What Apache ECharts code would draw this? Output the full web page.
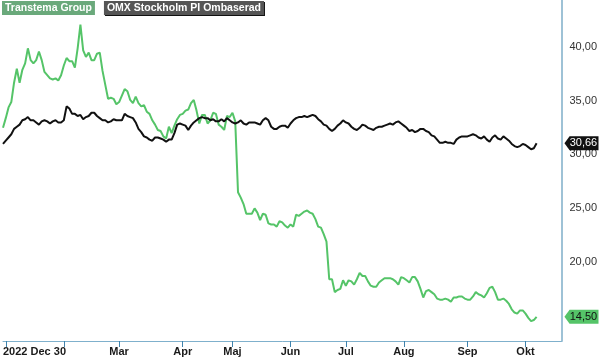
<!DOCTYPE html>
<html>
<head>
<meta charset="utf-8">
<script src="https://cdn.jsdelivr.net/npm/echarts@6/dist/echarts.min.js"></script>
<style>
  html, body { margin: 0; padding: 0; background: #fff; }
  #chart { width: 600px; height: 358px; }
</style>
</head>
<body>
<div id="chart"></div>
<script>
// trading days (Stockholm), first point 2022-12-30, axis runs a few days past the last point
const startDate = '2022-12-30';
const axisEndDate = '2023-10-19';
const holidays = ['2023-01-06', '2023-04-07', '2023-04-10', '2023-05-01', '2023-05-18', '2023-06-06', '2023-06-23'];
const monthNames = ['Jan', 'Feb', 'Mar', 'Apr', 'Maj', 'Jun', 'Jul', 'Aug', 'Sep', 'Okt', 'Nov', 'Dec'];

const seriesNames = ['Transtema Group', 'OMX Stockholm PI Ombaserad'];

const transtema = [
  32.1, 33.0, 34.0, 34.5, 36.3, 37.6, 36.3, 37.5, 38.1, 39.5,
  38.4, 38.1, 38.4, 39.2, 38.4, 37.3, 37.0, 36.7, 36.6, 36.7,
  36.5, 37.0, 37.9, 38.6, 38.3, 38.3, 37.7, 39.5, 41.7, 39.3,
  38.7, 39.1, 38.4, 38.4, 39.0, 39.1, 37.4, 36.1, 34.8, 34.9,
  34.8, 34.3, 34.5, 35.1, 35.7, 35.5, 34.7, 34.4, 35.0, 34.4,
  34.1, 34.2, 33.6, 33.4, 32.8, 32.4, 31.9, 31.8, 31.3, 31.1,
  32.2, 31.6, 32.3, 32.9, 33.3, 33.4, 33.7, 33.8, 34.4, 34.7,
  33.7, 32.5, 33.3, 33.3, 32.5, 32.8, 33.5, 33.4, 32.4, 32.2,
  31.9, 33.2, 33.1, 33.5, 32.7, 26.1, 25.6, 25.0, 24.1, 24.1,
  24.1, 24.6, 24.2, 23.5, 24.1, 24.0, 23.2, 23.1, 23.1, 22.9,
  23.4, 23.3, 23.0, 22.8, 23.1, 22.9, 24.0, 23.9, 24.1, 24.3,
  24.4, 24.2, 24.1, 23.6, 22.9, 22.8, 22.2, 21.5, 18.0, 18.0,
  16.8, 17.0, 17.1, 17.9, 17.4, 17.9, 17.8, 17.5, 18.0, 18.6,
  18.3, 18.3, 17.8, 17.4, 17.3, 17.3, 17.7, 17.9, 18.1, 18.1,
  18.1, 18.0, 17.8, 17.5, 18.2, 18.1, 17.9, 17.7, 18.2, 18.2,
  17.8, 17.1, 16.3, 16.9, 17.0, 16.8, 16.6, 16.2, 16.1, 16.1,
  16.2, 16.1, 15.9, 16.3, 16.3, 16.4, 16.4, 16.2, 16.1, 16.1,
  16.4, 16.8, 16.6, 16.5, 16.3, 16.7, 17.2, 17.3, 16.8, 16.1,
  16.1, 16.2, 16.0, 15.7, 15.2, 14.9, 14.8, 15.1, 15.1, 14.8,
  14.4, 14.1, 14.2, 14.50
];

const omxpi = [
  30.6, 30.9, 31.2, 31.5, 32.0, 32.2, 32.4, 32.8, 32.9, 33.1,
  32.8, 32.8, 32.6, 32.4, 32.7, 32.8, 32.7, 32.5, 32.7, 32.8,
  32.6, 32.6, 32.8, 34.1, 33.9, 33.4, 33.4, 33.2, 33.3, 32.9,
  33.1, 33.2, 33.5, 33.5, 33.2, 33.0, 32.8, 32.8, 32.6, 32.7,
  32.9, 32.8, 32.8, 32.8, 33.4, 33.2, 33.1, 33.0, 32.6, 32.0,
  31.7, 31.3, 31.2, 31.0, 30.9, 31.2, 31.2, 31.1, 31.0, 30.8,
  31.0, 31.0, 31.6, 32.4, 32.5, 32.4, 32.3, 31.9, 32.3, 32.6,
  32.8, 33.0, 33.1, 33.0, 33.0, 32.8, 32.9, 32.7, 32.7, 32.9,
  32.7, 33.0, 32.8, 32.6, 32.5, 32.6, 32.8, 32.5, 32.4, 32.6,
  32.6, 32.6, 32.5, 32.4, 32.8, 33.0, 32.8, 32.2, 32.0, 32.0,
  32.2, 32.3, 32.3, 32.1, 32.5, 32.8, 33.0, 33.1, 33.1, 33.2,
  33.1, 33.2, 33.3, 33.2, 32.9, 32.7, 32.4, 32.3, 32.0, 31.8,
  32.0, 32.3, 32.5, 32.8, 32.6, 32.5, 32.2, 32.0, 31.9, 32.1,
  32.4, 32.3, 32.1, 32.0, 31.9, 32.1, 32.2, 32.2, 32.3, 32.4,
  32.5, 32.4, 32.6, 32.7, 32.5, 32.3, 32.1, 31.8, 31.9, 31.7,
  31.8, 32.0, 32.0, 31.8, 31.7, 31.4, 31.3, 31.0, 30.7, 30.7,
  30.8, 30.7, 30.7, 30.6, 31.0, 31.2, 31.3, 31.3, 31.3, 31.4,
  31.5, 31.4, 31.2, 31.1, 31.3, 31.0, 30.8, 31.2, 31.4, 31.1,
  31.0, 31.3, 31.1, 30.9, 30.6, 30.4, 30.3, 30.4, 30.6, 30.5,
  30.3, 30.1, 30.2, 30.66
];

const colors = ['#55c468', '#111111'];

// build category list of trading days
const dates = [];
(() => {
  const d = new Date(startDate + 'T00:00:00Z');
  const end = new Date(axisEndDate + 'T00:00:00Z');
  while (d <= end) {
    const iso = d.toISOString().slice(0, 10);
    const wd = d.getUTCDay();
    if (wd !== 0 && wd !== 6 && !holidays.includes(iso)) dates.push(iso);
    d.setUTCDate(d.getUTCDate() + 1);
  }
})();

const isMonthStart = idx => idx > 0 && dates[idx].slice(5, 7) !== dates[idx - 1].slice(5, 7);
const fmt = v => v.toFixed(2).replace('.', ',');

const lastIdx = dates.length - 1;

const tagPath = 'path://M0,7 L6,0 L40,0 L40,14 L6,14 Z';

const makeTag = (value, bg, fg) => ({
  silent: true,
  animation: false,
  symbol: tagPath,
  symbolSize: [34, 14],
  symbolOffset: [20, 0],
  itemStyle: { color: bg },
  label: {
    show: true,
    position: 'inside',
    offset: [2, 0],
    color: fg,
    fontSize: 11,
    fontFamily: 'Liberation Sans',
    formatter: () => fmt(value),
  },
  data: [{ coord: [dates[lastIdx], value] }],
});

const legendText = bg => ({
  color: '#ffffff',
  backgroundColor: bg,
  padding: [2, 3, 1, 3],
  fontWeight: 'bold',
  fontSize: 10.5,
  fontFamily: 'Liberation Sans',
});

const chart = echarts.init(document.getElementById('chart'), null, { renderer: 'canvas' });

const option = {
  animation: false,
  backgroundColor: '#ffffff',
  legend: {
    left: -3,
    top: 1,
    padding: 0,
    icon: 'none',
    itemWidth: 0,
    itemHeight: 0,
    itemGap: 4,
    selectedMode: false,
    data: [
      { name: seriesNames[0], textStyle: legendText('#6aa97b') },
      {
        name: seriesNames[1],
        textStyle: Object.assign(legendText('#555555'), {
          shadowColor: '#111111',
          shadowOffsetX: 1,
          shadowOffsetY: 1,
        }),
      },
    ],
  },
  grid: {
    left: -3,
    right: 34,
    top: 0,
    bottom: 17,
    containLabel: false,
  },
  xAxis: {
    type: 'category',
    data: dates,
    boundaryGap: false,
    axisLine: { lineStyle: { color: '#7fb0cc', width: 1 } },
    axisTick: {
      show: true,
      length: 6,
      interval: idx => isMonthStart(idx),
      lineStyle: { color: '#3f83ad', width: 1 },
    },
    axisLabel: {
      interval: idx => idx === 0 || (isMonthStart(idx) && idx > 25),
      formatter: (value, idx) => {
        if (idx === 0) return '2022 ' + 'Dec ' + Number(value.slice(8, 10));
        return monthNames[Number(value.slice(5, 7)) - 1];
      },
      alignMinLabel: 'left',
      margin: 5,
      color: '#1a1a1a',
      fontWeight: 'bold',
      fontSize: 11,
      fontFamily: 'Liberation Sans',
      hideOverlap: false,
    },
    splitLine: { show: false },
  },
  yAxis: {
    type: 'value',
    position: 'right',
    min: 12.25,
    max: 44.0,
    splitNumber: 5,
    axisLine: { show: true, lineStyle: { color: '#9ec2d6', width: 2 } },
    axisTick: { show: false },
    splitLine: { show: false },
    axisLabel: {
      margin: 8,
      color: '#333333',
      fontSize: 11,
      fontFamily: 'Liberation Sans',
      formatter: v => (Math.abs(v % 5) < 1e-6 ? '{a|' + fmt(v) + '}' : ''),
      rich: {
        a: { padding: [8, 0, 0, 0], fontSize: 11, color: '#333333', fontFamily: 'Liberation Sans' },
      },
    },
  },
  series: [
    {
      name: seriesNames[0],
      type: 'line',
      data: transtema,
      showSymbol: false,
      symbol: 'none',
      lineStyle: { color: colors[0], width: 2 },
      itemStyle: { color: colors[0] },
      markPoint: makeTag(transtema[transtema.length - 1], colors[0], '#111111'),
      z: 2,
    },
    {
      name: seriesNames[1],
      type: 'line',
      data: omxpi,
      showSymbol: false,
      symbol: 'none',
      lineStyle: { color: colors[1], width: 2 },
      itemStyle: { color: colors[1] },
      markPoint: makeTag(omxpi[omxpi.length - 1], colors[1], '#ffffff'),
      z: 3,
    },
  ],
};

chart.setOption(option);
</script>
</body>
</html>
